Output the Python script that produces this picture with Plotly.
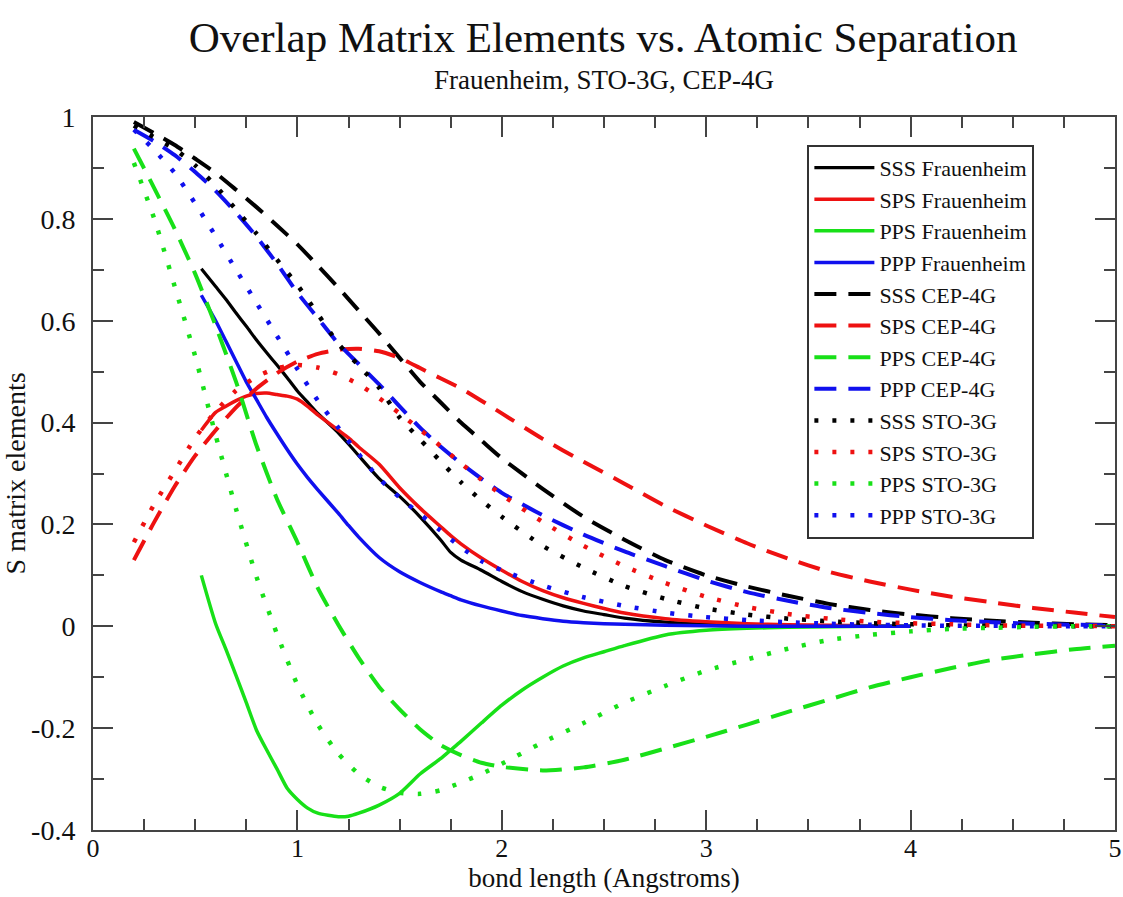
import plotly.graph_objects as go

# ---------------- data ----------------
x_basis = [0.2, 0.3, 0.4, 0.5, 0.6, 0.7, 0.8, 0.9, 1.0, 1.1, 1.2, 1.3, 1.4, 1.5, 1.6, 1.7,
           1.8, 1.9, 2.0, 2.2, 2.4, 2.6, 2.8, 3.0, 3.2, 3.4, 3.6, 3.8, 4.0, 4.2, 4.4, 4.6, 4.8, 5.0]

sss_cep = [0.99, 0.968, 0.945, 0.918, 0.89, 0.857, 0.823, 0.787, 0.75, 0.708, 0.665, 0.62, 0.575,
           0.527, 0.48, 0.44, 0.40, 0.365, 0.33, 0.27, 0.215, 0.17, 0.13, 0.10, 0.078, 0.060,
           0.044, 0.032, 0.023, 0.016, 0.011, 0.007, 0.004, 0.002]
sps_cep = [0.13, 0.205, 0.275, 0.335, 0.385, 0.43, 0.467, 0.497, 0.52, 0.535, 0.543, 0.545, 0.54,
           0.527, 0.507, 0.487, 0.467, 0.443, 0.418, 0.368, 0.323, 0.28, 0.236, 0.198, 0.163,
           0.133, 0.107, 0.088, 0.072, 0.058, 0.047, 0.036, 0.027, 0.018]
pps_cep = [0.938, 0.86, 0.78, 0.692, 0.59, 0.48, 0.355, 0.25, 0.165, 0.075, 0.003, -0.062, -0.119,
           -0.163, -0.202, -0.233, -0.253, -0.268, -0.276, -0.283, -0.277, -0.262, -0.24, -0.217,
           -0.193, -0.168, -0.144, -0.12, -0.10, -0.082, -0.066, -0.055, -0.045, -0.038]
ppp_cep = [0.975, 0.952, 0.925, 0.892, 0.855, 0.812, 0.765, 0.712, 0.655, 0.605, 0.555, 0.515,
           0.475, 0.432, 0.39, 0.353, 0.32, 0.29, 0.262, 0.218, 0.18, 0.147, 0.118, 0.09, 0.067,
           0.05, 0.036, 0.026, 0.018, 0.012, 0.008, 0.005, 0.003, 0.002]

sss_sto = [0.983, 0.96, 0.937, 0.905, 0.865, 0.818, 0.771, 0.72, 0.67, 0.613, 0.555, 0.512, 0.468,
           0.41, 0.367, 0.324, 0.283, 0.247, 0.215, 0.158, 0.115, 0.079, 0.054, 0.035, 0.023,
           0.015, 0.010, 0.006, 0.004, 0.002, 0.001, 0.001, 0.0, 0.0]
sps_sto = [0.165, 0.24, 0.305, 0.37, 0.422, 0.463, 0.49, 0.507, 0.513, 0.508, 0.495, 0.475, 0.448,
           0.418, 0.386, 0.354, 0.32, 0.288, 0.258, 0.205, 0.158, 0.118, 0.085, 0.058, 0.038,
           0.024, 0.015, 0.009, 0.006, 0.004, 0.002, 0.001, 0.001, 0.0]
pps_sto = [0.91, 0.80, 0.667, 0.53, 0.375, 0.23, 0.097, -0.015, -0.115, -0.193, -0.25, -0.29,
           -0.315, -0.327, -0.329, -0.322, -0.307, -0.29, -0.27, -0.228, -0.19, -0.15, -0.117,
           -0.087, -0.065, -0.044, -0.027, -0.017, -0.01, -0.005, -0.003, -0.001, 0.0, 0.0]
ppp_sto = [0.975, 0.935, 0.89, 0.83, 0.766, 0.70, 0.635, 0.57, 0.505, 0.443, 0.39, 0.338, 0.29,
           0.253, 0.22, 0.188, 0.155, 0.128, 0.11, 0.08, 0.057, 0.04, 0.027, 0.018, 0.012, 0.008,
           0.005, 0.003, 0.002, 0.001, 0.001, 0.0, 0.0, 0.0]

x_frau = [0.53, 0.6, 0.65, 0.7, 0.75, 0.8, 0.85, 0.9, 0.95, 1.0, 1.05, 1.1, 1.2, 1.25, 1.3, 1.4,
          1.5, 1.6, 1.7, 1.75, 1.8, 1.9, 2.0, 2.1, 2.2, 2.3, 2.4, 2.5, 2.6, 2.8, 3.0, 3.2, 3.4,
          3.6, 3.8, 4.0]
sss_frau = [0.702, 0.667, 0.642, 0.615, 0.589, 0.562, 0.537, 0.513, 0.488, 0.462, 0.44, 0.418,
            0.38, 0.358, 0.335, 0.29, 0.255, 0.215, 0.17, 0.145, 0.13, 0.11, 0.088, 0.068, 0.053,
            0.04, 0.03, 0.023, 0.016, 0.008, 0.004, 0.002, 0.001, 0.0, 0.0, 0.0]
sps_frau = [0.385, 0.42, 0.432, 0.443, 0.452, 0.457, 0.458, 0.455, 0.452, 0.446, 0.432, 0.415,
            0.385, 0.37, 0.352, 0.318, 0.272, 0.232, 0.196, 0.178, 0.162, 0.134, 0.11, 0.088,
            0.07, 0.056, 0.045, 0.035, 0.026, 0.015, 0.009, 0.005, 0.003, 0.002, 0.001, 0.0]
pps_frau = [0.10, 0.005, -0.045, -0.097, -0.15, -0.204, -0.243, -0.28, -0.318, -0.34, -0.357,
            -0.367, -0.374, -0.373, -0.367, -0.351, -0.328, -0.29, -0.26, -0.243, -0.226, -0.19,
            -0.155, -0.125, -0.10, -0.078, -0.062, -0.05, -0.038, -0.017, -0.008, -0.004, -0.002,
            -0.001, 0.0, 0.0]
ppp_frau = [0.65, 0.60, 0.56, 0.52, 0.48, 0.445, 0.41, 0.378, 0.347, 0.318, 0.292, 0.268, 0.222,
            0.198, 0.175, 0.135, 0.107, 0.086, 0.068, 0.06, 0.052, 0.04, 0.03, 0.021, 0.015, 0.01,
            0.007, 0.005, 0.004, 0.002, 0.001, 0.0, 0.0, 0.0, 0.0, 0.0]

x_tickvals = [0, 1, 2, 3, 4, 5]
x_ticktext = ["0", "1", "2", "3", "4", "5"]
y_tickvals = [-0.4, -0.2, 0, 0.2, 0.4, 0.6, 0.8, 1.0]
y_ticktext = ["-0.4", "-0.2", "0", "0.2", "0.4", "0.6", "0.8", "1"]

# ---------------- styling ----------------
FONT = "Liberation Serif, Times New Roman, serif"
BLACK, RED, GREEN, BLUE = "#000000", "#ee1111", "#18e018", "#1010ee"
SOLID = "solid"
DASH = "22px,12px"
DOT = "4px,14px"

series = [
    ("SSS Frauenheim", x_frau, sss_frau, BLACK, SOLID, 3.2),
    ("SPS Frauenheim", x_frau, sps_frau, RED, SOLID, 3.5),
    ("PPS Frauenheim", x_frau, pps_frau, GREEN, SOLID, 3.5),
    ("PPP Frauenheim", x_frau, ppp_frau, BLUE, SOLID, 3.5),
    ("SSS CEP-4G", x_basis, sss_cep, BLACK, DASH, 4),
    ("SPS CEP-4G", x_basis, sps_cep, RED, DASH, 4),
    ("PPS CEP-4G", x_basis, pps_cep, GREEN, DASH, 4),
    ("PPP CEP-4G", x_basis, ppp_cep, BLUE, DASH, 4),
    ("SSS STO-3G", x_basis, sss_sto, BLACK, DOT, 4.5),
    ("SPS STO-3G", x_basis, sps_sto, RED, DOT, 4.5),
    ("PPS STO-3G", x_basis, pps_sto, GREEN, DOT, 4.5),
    ("PPP STO-3G", x_basis, ppp_sto, BLUE, DOT, 4.5),
]

fig = go.Figure()
for name, xs, ys, color, dash, width in series:
    fig.add_trace(go.Scatter(
        x=xs, y=ys, mode="lines", name=name,
        line=dict(color=color, dash=dash, width=width, shape="spline", smoothing=0.6),
    ))

axis_common = dict(
    showgrid=False, zeroline=False, showline=True, linecolor="#444", linewidth=2,
    mirror="ticks", ticks="inside", ticklen=20, tickwidth=2, tickcolor="#444",
    automargin=False,
)

fig.update_layout(
    width=1123, height=897,
    margin=dict(l=93, r=8, t=117, b=67),
    paper_bgcolor="white", plot_bgcolor="white",
    font=dict(family=FONT, color="#111"),
    title=dict(text="Overlap Matrix Elements vs. Atomic Separation",
               font=dict(family=FONT, size=43, color="#111"),
               x=0.537, xanchor="center", y=1 - 37 / 897, yanchor="middle"),
    showlegend=True,
    legend=dict(x=0.699, y=0.961, xanchor="left", yanchor="top",
                bgcolor="white", bordercolor="#333", borderwidth=2,
                font=dict(family=FONT, size=22, color="#111"),
                itemwidth=60, tracegroupgap=0),
    xaxis=dict(range=[0, 5], tickmode="array", tickvals=x_tickvals, ticktext=x_ticktext,
               tickfont=dict(family=FONT, size=26, color="#111"),
               ticklabelstandoff=-6,
               minor=dict(tickmode="linear", tick0=0, dtick=0.25, ticks="inside",
                          ticklen=11, tickwidth=1.5, tickcolor="#444"),
               title=dict(text="bond length (Angstroms)", standoff=0,
                          font=dict(family=FONT, size=27, color="#111")),
               **axis_common),
    yaxis=dict(range=[-0.4, 1], tickmode="array", tickvals=y_tickvals, ticktext=y_ticktext,
               tickfont=dict(family=FONT, size=28, color="#111"),
               minor=dict(tickmode="linear", tick0=0, dtick=0.1, ticks="inside",
                          ticklen=11, tickwidth=1.5, tickcolor="#444"),
               title=dict(text="S matrix elements", standoff=4,
                          font=dict(family=FONT, size=28, color="#111")),
               ticklabelstandoff=10,
               **axis_common),
    annotations=[dict(text="Frauenheim, STO-3G, CEP-4G", xref="paper", yref="paper",
                      x=0.5, y=1 + 37 / 713, xanchor="center", yanchor="middle",
                      showarrow=False, font=dict(family=FONT, size=27, color="#111"))],
)

fig.write_html("out.html")
